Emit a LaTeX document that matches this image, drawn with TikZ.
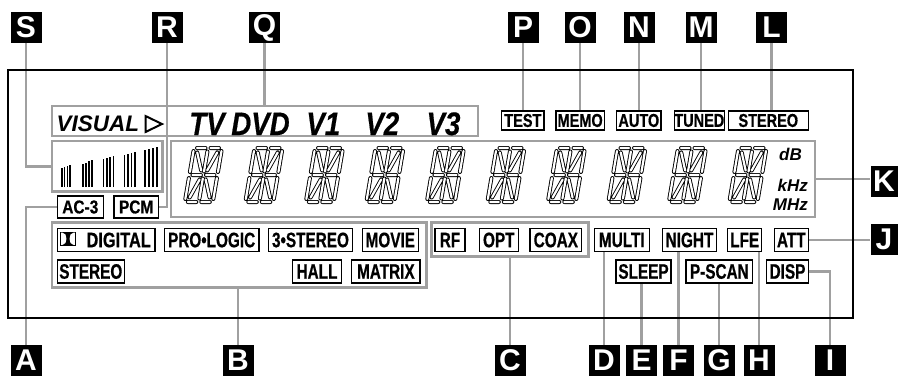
\documentclass[tikz,border=0pt]{standalone}
\usepackage{fontspec}
\setmainfont{Liberation Sans}
\newfontfamily\condf[FakeStretch=0.73,FakeBold=0.6]{Liberation Sans}
\newfontfamily\condt[FakeStretch=0.78,FakeBold=0.6]{Liberation Sans}
\newfontfamily\conda[FakeStretch=0.83,FakeBold=0.6]{Liberation Sans}
\newfontfamily\condv[FakeStretch=0.85,FakeBold=0.5]{Liberation Sans}
\definecolor{gr}{HTML}{A0A0A0}
\newcommand\segset[1]{\draw[#1] (3,0)--(11.5,0) (16.5,0)--(25,0) (3,27)--(11.5,27) (16.5,27)--(25,27) (3,54)--(11.5,54) (16.5,54)--(25,54) (0,3)--(0,24) (14,3.5)--(14,23.5) (28,3)--(28,24) (0,30)--(0,51) (14,30.5)--(14,50.5) (28,30)--(28,51) (4,4.5)--(11,22.5) (24,4.5)--(17,22.5) (11,31.5)--(4,49.5) (17,31.5)--(24,49.5);}
\begin{document}
\begin{tikzpicture}[x=1pt,y=-1pt,
 grp/.style={draw=gr,line width=2.5pt,inner sep=0pt},
 conn/.style={draw=gr,line width=2.5pt},
 lbl/.style={fill=black,text=white,font=\bfseries\fontsize{30}{30}\selectfont,minimum width=31pt,minimum height=31pt,inner sep=0pt},
 ind/.style={draw=black,line width=1.1pt,inner sep=0pt,minimum height=23pt,font=\condf\bfseries\fontsize{21}{21}\selectfont},
 indtop/.style={ind,minimum height=19pt,font=\condt\bfseries\fontsize{18.6}{18.6}\selectfont},
 indac/.style={ind,minimum height=22pt,font=\conda\bfseries\fontsize{18.6}{18.6}\selectfont},
 txt/.style={inner sep=0pt},
 segout/.style={line width=4pt,line cap=round,black},
 segin/.style={line width=2.2pt,line cap=round,white},
 bar/.style={line width=1.5pt}]
\useasboundingbox (0,0) rectangle (904,376);

% group boxes
\node[grp,minimum width=426pt,minimum height=30pt] (visual) at (265,121) {};
\node[grp,minimum width=110.5pt,minimum height=50.5pt] (meter) at (107.25,166.25) {};
\node[grp,minimum width=644pt,minimum height=76pt] (seg) at (493,179) {};
\node[grp,minimum width=374.7pt,minimum height=65pt] (mode) at (239.35,255.2) {};
\node[grp,minimum width=156.6pt,minimum height=34pt] (input) at (510,239.7) {};

% indicators
\node[indtop,minimum width=42.3pt] (test) at (522.85,120.5) {TEST};
\node[indtop,minimum width=48.3pt] (memo) at (580.15,120.5) {MEMO};
\node[indtop,minimum width=44.3pt] (auto) at (638.85,120.5) {AUTO};
\node[indtop,minimum width=50pt] (tuned) at (699.3,120.5) {TUNED};
\node[indtop,minimum width=80pt] (stereoT) at (768.3,120.5) {STEREO};

\node[indac,minimum width=46pt] (ac3) at (80.3,207) {AC-3};
\node[indac,minimum width=44.3pt] (pcm) at (136.15,207) {PCM};

\node[ind,minimum width=97.7pt] (dig) at (106.15,240) {};
\node[txt,anchor=east,font=\condt\bfseries\fontsize{21}{21}\selectfont] (digt) at ([xshift=-4.5pt]dig.east) {DIGITAL};
\node[ind,minimum width=94.7pt] (prologic) at (211.65,240) {PRO•LOGIC};
\node[ind,minimum width=84.4pt] (three) at (310.5,240) {3•STEREO};
\node[ind,minimum width=56pt] (movie) at (390.3,240) {MOVIE};
\node[ind,minimum width=30pt] (rf) at (450,240) {RF};
\node[ind,minimum width=39pt] (opt) at (498.8,240) {OPT};
\node[ind,minimum width=51.7pt] (coax) at (555.85,240) {COAX};
\node[ind,minimum width=55pt] (multi) at (621.8,240) {MULTI};
\node[ind,minimum width=54.4pt] (night) at (689.5,240) {NIGHT};
\node[ind,minimum width=34pt] (lfe) at (744.7,240) {LFE};
\node[ind,minimum width=34pt] (att) at (791.3,240) {ATT};

\node[ind,minimum width=67pt] (stereoB) at (90.8,271.5) {STEREO};
\node[ind,minimum width=49.4pt] (hall) at (317,271.5) {HALL};
\node[ind,minimum width=68.3pt] (matrix) at (385.85,271.5) {MATRIX};
\node[ind,minimum width=55pt] (sleep) at (643.5,271.5) {SLEEP};
\node[ind,minimum width=66.7pt] (pscan) at (719.35,271.5) {P-SCAN};
\node[ind,minimum width=41.6pt] (disp) at (787.5,271.5) {DISP};

% Dolby logo
\fill (60,231.5) rectangle (76,246);
\fill[white] (61.2,232.6) -- (62.5,232.6) .. controls (67.8,232.6) and (67.8,244.9) .. (62.5,244.9) -- (61.2,244.9) -- cycle;
\fill[white] (74.8,232.6) -- (73.5,232.6) .. controls (68.2,232.6) and (68.2,244.9) .. (73.5,244.9) -- (74.8,244.9) -- cycle;

% VISUAL row
\node[txt,anchor=base west,font=\bfseries\itshape\fontsize{22.5}{22.5}\selectfont] (vis) at (56.5,131.7) {VISUAL};
\draw[line width=2pt,line join=miter] (145.5,116) -- (162,124) -- (145.5,132) -- cycle;
\foreach \w/\cx in {TV/207,DVD/260.5,V1/323.3,V2/382.3,V3/443.5}
  \node[txt,anchor=base,font=\condv\bfseries\itshape\fontsize{32.5}{32.5}\selectfont] (w\w) at (\cx,135) {\w};

% level meter
\foreach \g in {0,...,4}{\foreach \k in {0,...,3}{
  \pgfmathsetmacro\xx{62+20.8*\g+(2.7+0.3*\g)*\k}
  \pgfmathsetmacro\yy{168-1.1*(4*\g+\k)}
  \draw[bar] (\xx,187) -- (\xx,\yy);
}}

% 16-segment characters
\foreach \i in {0,...,9}{
  \begin{scope}[shift={(194+60.5*\i,148)},xslant=0.17]
    \segset{segout}\segset{segin}
  \end{scope}}
\node[txt,anchor=base east,font=\bfseries\itshape\fontsize{17}{17}\selectfont] (db) at (802,160) {dB};
\node[txt,anchor=base east,font=\bfseries\itshape\fontsize{17}{17}\selectfont] (khz) at (808,191.5) {kHz};
\node[txt,anchor=base east,font=\bfseries\itshape\fontsize{17}{17}\selectfont] (mhz) at (808,210) {MHz};

% letter labels
\node[lbl] (S) at (26,27.5) {S};
\node[lbl] (R) at (167,27.5) {R};
\node[lbl] (Q) at (264.5,27.5) {Q};
\node[lbl] (P) at (523,27.5) {P};
\node[lbl] (O) at (580,27.5) {O};
\node[lbl] (N) at (639,27.5) {N};
\node[lbl] (M) at (701,27.5) {M};
\node[lbl] (L) at (771.5,27.5) {L};
\node[lbl,minimum width=27pt] (K) at (884,181) {K};
\node[lbl,minimum width=27pt] (J) at (884,239) {J};
\node[lbl] (A) at (26,360.5) {A};
\node[lbl] (B) at (238,360.5) {B};
\node[lbl] (C) at (510,360.5) {C};
\node[lbl] (D) at (604,360.5) {D};
\node[lbl] (E) at (641.5,360.5) {E};
\node[lbl] (F) at (678.5,360.5) {F};
\node[lbl] (G) at (719,360.5) {G};
\node[lbl] (H) at (759,360.5) {H};
\node[lbl] (I) at (830,360.5) {I};

% connectors
\draw[conn] (S.south) |- (meter.west);
\draw[conn] (R.south) |- (pcm.east);
\draw[conn] (Q.south) -- (Q.south |- visual.north);
\foreach \l/\b in {P/test,O/memo,N/auto,M/tuned,L/stereoT}
  \draw[conn] (\l.south) -- (\l.south |- \b.north);
\draw[conn] (seg.east) -- (seg.east -| K.west);
\draw[conn] (att.east) -- (att.east -| J.west);
\draw[conn] (disp.east) -| (I.north);
\draw[conn] (ac3.west) -| (A.north);
\draw[conn] (B.north) -- (B.north |- mode.south);
\draw[conn] (C.north) -- (C.north |- input.south);
\foreach \l/\b in {D/multi,E/sleep,F/night,G/pscan,H/lfe}
  \draw[conn] (\l.north) -- (\l.north |- \b.south);

% main frame
\draw[line width=2pt] (8.3,70) rectangle (853.3,318);
\end{tikzpicture}
\end{document}
